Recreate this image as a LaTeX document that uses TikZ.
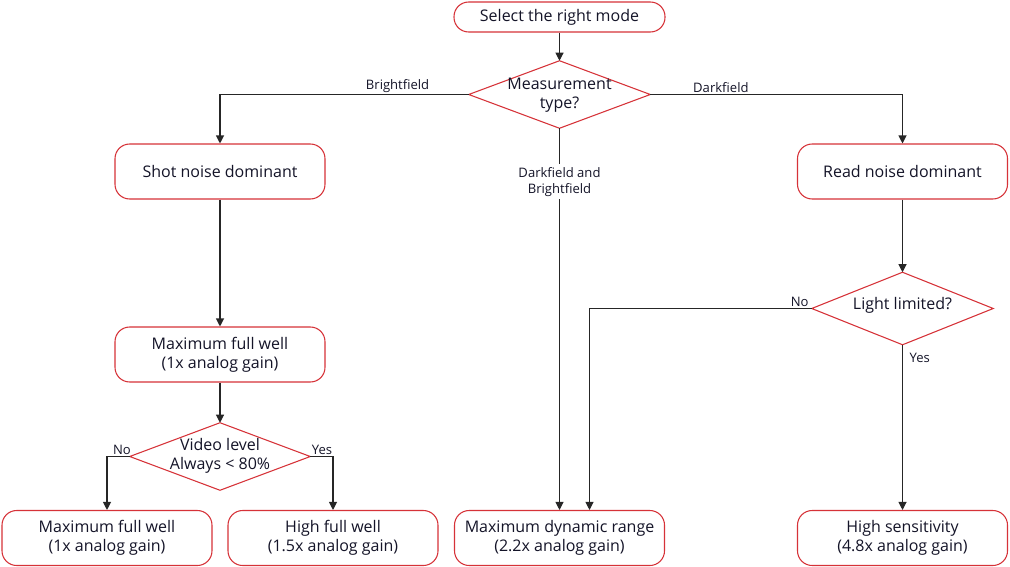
\documentclass[tikz,border=0pt]{standalone}
\usepackage{fontspec}
\setmainfont{Open Sans}
\usetikzlibrary{arrows.meta}
\definecolor{boxred}{RGB}{214,50,56}
\definecolor{txt}{RGB}{20,20,40}
\begin{document}
\begin{tikzpicture}[x=0.75pt,y=-0.75pt,
  box/.style={draw=boxred,line width=0.8pt,rounded corners=11pt,fill=white,text=txt,
    minimum width=157.5pt,minimum height=41.25pt,inner sep=0pt,align=center,font=\fontsize{12}{14.2}\selectfont},
  dec/.style={minimum width=#1,minimum height=50.25pt,inner sep=0pt,align=center,text=txt,font=\fontsize{12}{14.2}\selectfont},
  dia/.style={draw=boxred,line width=0.8pt,fill=white},
  arr/.style={draw=black!85,line width=0.8pt,-{Triangle[length=6pt,width=6pt]}},
  lbl/.style={font=\fontsize{9.8}{12}\selectfont,text=txt,inner sep=1pt}]
\useasboundingbox (0,0) rectangle (1010,567);
% nodes
\node[box,minimum height=22.5pt,minimum width=158.25pt] (start) at (559.5,17) {Select the right mode};
\node[dec=135.75pt] (meas) at (559.5,94.5) {};
\draw[dia] (meas.north)--(meas.east)--(meas.south)--(meas.west)--cycle;
\node[dec=135.75pt] at (559.5,95.5) {Measurement\\type?};
\node[box] (shot) at (220,171.5) {Shot noise dominant};
\node[box] (read) at (902.5,171.5) {Read noise dominant};
\node[box] (mfw) at (220,354.5) {Maximum full well\\(1x analog gain)};
\node[dec=135pt] (video) at (220,456.5) {};
\draw[dia] (video.north)--(video.east)--(video.south)--(video.west)--cycle;
\node[dec=135pt] at (220,455.5) {Video level\\Always < 80\%};
\node[dec=135.75pt,minimum height=54pt] (light) at (902.5,308.5) {};
\draw[dia] (light.north)--(light.east)--(light.south)--(light.west)--cycle;
\node at (902.5,305) [text=txt,font=\fontsize{12}{14.2}\selectfont] {Light limited?};
\node[box] (mfwb) at (107,538) {Maximum full well\\(1x analog gain)};
\node[box] (hfw) at (333,538) {High full well\\(1.5x analog gain)};
\node[box] (mdr) at (559.5,538) {Maximum dynamic range\\(2.2x analog gain)};
\node[box] (hs) at (902.5,538) {High sensitivity\\(4.8x analog gain)};
% connectors
\draw[arr] (start) -- (meas.north);
\draw[arr] (meas.west) -| (shot.north) node[lbl,pos=0.143,above] {Brightfield};
\draw[arr] (meas.east) -| (read.north) node[lbl,pos=0.14,above] {Darkfield};
\draw[arr] (meas.south) -- (mdr.north) node[lbl,pos=0.14,fill=white,align=center,inner sep=2pt] {Darkfield and\\Brightfield};
\draw[arr] (shot) -- (mfw);
\draw[arr] (mfw) -- (video.north);
\draw[arr] (video.west) -| (mfwb.north) node[lbl,pos=0.17,above] {No};
\draw[arr] (video.east) -| (hfw.north) node[lbl,pos=0.26,above] {Yes};
\draw[arr] (read) -- (light.north);
\coordinate (mdr2) at ([xshift=22.5pt]mdr.north);
\draw[arr] (light.west) -| (mdr2) node[lbl,pos=0.027,above] {No};
\draw[arr] (light.south) -- (hs.north) node[lbl,pos=0.08,right=4pt] {Yes};
\end{tikzpicture}
\end{document}
